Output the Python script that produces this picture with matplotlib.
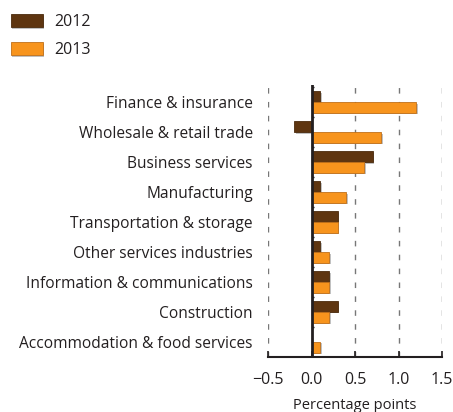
import numpy as np
import matplotlib.pyplot as plt
import matplotlib.patheffects as pe

# data
categories = ['Finance & insurance', 'Wholesale & retail trade', 'Business services',
              'Manufacturing', 'Transportation & storage', 'Other services industries',
              'Information & communications', 'Construction', 'Accommodation & food services']
vals_2012 = [0.1, -0.2, 0.7, 0.1, 0.3, 0.1, 0.2, 0.3, 0.0]
vals_2013 = [1.2, 0.8, 0.6, 0.4, 0.3, 0.2, 0.2, 0.2, 0.1]
xticks = [-0.5, 0.0, 0.5, 1.0, 1.5]

plt.rcParams['font.family'] = ['Open Sans', 'DejaVu Sans']
txt = '#231f20'
c12, c13 = '#5e3510', '#f7941d'

fig = plt.figure(figsize=(4.53, 4.12), dpi=100)
ax = fig.add_axes([0.592, 0.134, 0.384, 0.66])

y = np.arange(len(categories))
h = 0.36
shadow = [pe.SimplePatchShadow(offset=(1.2, -1.2), shadow_rgbFace='#999999', alpha=0.6), pe.Normal()]
b1 = ax.barh(y - h / 2, vals_2012, height=h, color=c12, edgecolor='#4a2a0c', linewidth=0.6, label='2012', zorder=3)
b2 = ax.barh(y + h / 2, vals_2013, height=h, color=c13, edgecolor='#c0701a', linewidth=0.6, label='2013', zorder=3)
for b in list(b1) + list(b2):
    b.set_path_effects(shadow)

ax.set_xlim(-0.5, 1.5)
ax.set_ylim(len(categories) - 0.5, -0.57)
ax.set_xticks(xticks)
ax.set_xticklabels(['\u22120.5', '0.0', '0.5', '1.0', '1.5'])
ax.set_yticks(y)
ax.set_yticklabels(categories, va='center_baseline')

ax.grid(axis='x', linestyle=(0, (4, 6)), color='#777777', linewidth=1, zorder=0)
ax.axvline(0, color='#231f20', linewidth=2, zorder=4)
# little separator ticks on the zero line
ax.hlines(y[:-1] + 0.5, 0, 0.025, color='#231f20', linewidth=1, zorder=4)
ax.hlines([-0.5], 0, 0.025, color='#231f20', linewidth=1, zorder=4)

for s in ['top', 'right', 'left']:
    ax.spines[s].set_visible(False)
ax.spines['bottom'].set_linewidth(1.5)
ax.spines['bottom'].set_color(txt)
ax.tick_params(axis='x', direction='in', length=4, width=1.2, labelsize=11.5, colors=txt, pad=11, labelcolor=txt)
ax.tick_params(axis='y', length=0, labelsize=11.2, pad=11, labelcolor=txt)
ax.set_xlabel('Percentage points', fontsize=10.5, color=txt, labelpad=7)

fig.legend(handles=[b1, b2], labels=['2012', '2013'], loc='upper left', bbox_to_anchor=(-0.008, 1.0),
           frameon=False, fontsize=11.5, handlelength=2.0, handleheight=0.85, labelspacing=0.75,
           handletextpad=0.7, labelcolor=txt)

fig.savefig('out.png', dpi=100)
